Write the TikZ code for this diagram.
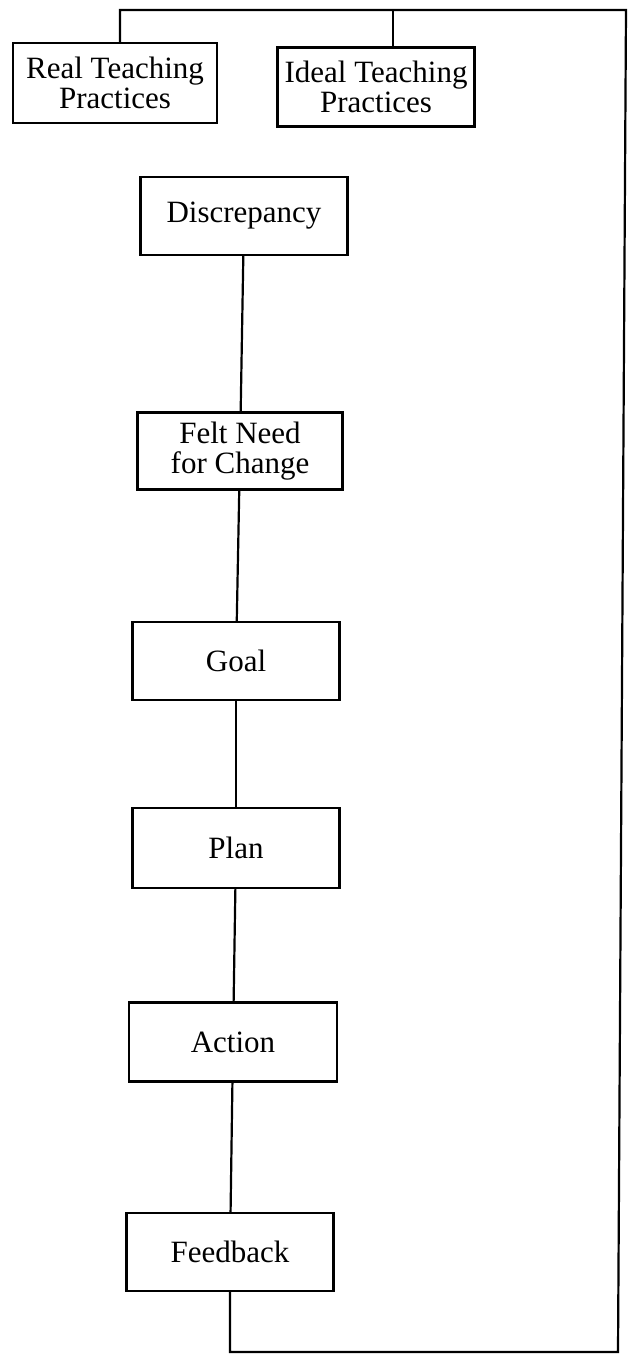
\documentclass[tikz,border=0pt]{standalone}
\usepackage{fontspec}
\usepackage{tikz}
\setmainfont{Liberation Serif}
\newcommand{\stagefont}{\fontsize{31}{30}\selectfont}

\begin{document}
\begin{tikzpicture}[x=1pt,y=-1pt]
\tikzstyle{every node}+=[inner sep=0pt]
\tikzstyle{stage}=[draw=black, line width=2.4pt, minimum width=207pt, minimum height=78pt, align=center, font=\stagefont]
\tikzstyle{link}=[black, line width=2.2pt]
\useasboundingbox (0,0) rectangle (638,1355);
\draw (115,83) node [stage, minimum width=204pt, minimum height=80pt] (real) {Real Teaching\\Practices};
\draw (376,87) node [stage, minimum width=197pt, minimum height=79pt] (ideal) {Ideal Teaching\\Practices};
\draw (244,216) node [stage] (disc) {Discrepancy};
\draw (240,451) node [stage, minimum width=205pt, minimum height=77pt] (need) {Felt Need\\for Change};
\draw (236,661) node [stage] (goal) {Goal};
\draw (236,848) node [stage, minimum height=80pt] (plan) {Plan};
\draw (233,1042) node [stage, minimum width=208pt, minimum height=79pt] (action) {Action};
\draw (230,1252) node [stage] (fb) {Feedback};
\coordinate (ne) at (626,10);
\coordinate (se) at (618,1352);
\draw [link] (disc) -- (need);
\draw [link] (need) -- (goal);
\draw [link] (goal) -- (plan);
\draw [link] (plan) -- (action);
\draw [link] (action) -- (fb);
\draw [link] ([xshift=5pt]real.north) |- (ne) -- (se) -| (fb.south);
\draw [link] ([xshift=17pt]ideal.north) -- ([xshift=17pt]ideal.north |- ne);
\end{tikzpicture}
\end{document}
